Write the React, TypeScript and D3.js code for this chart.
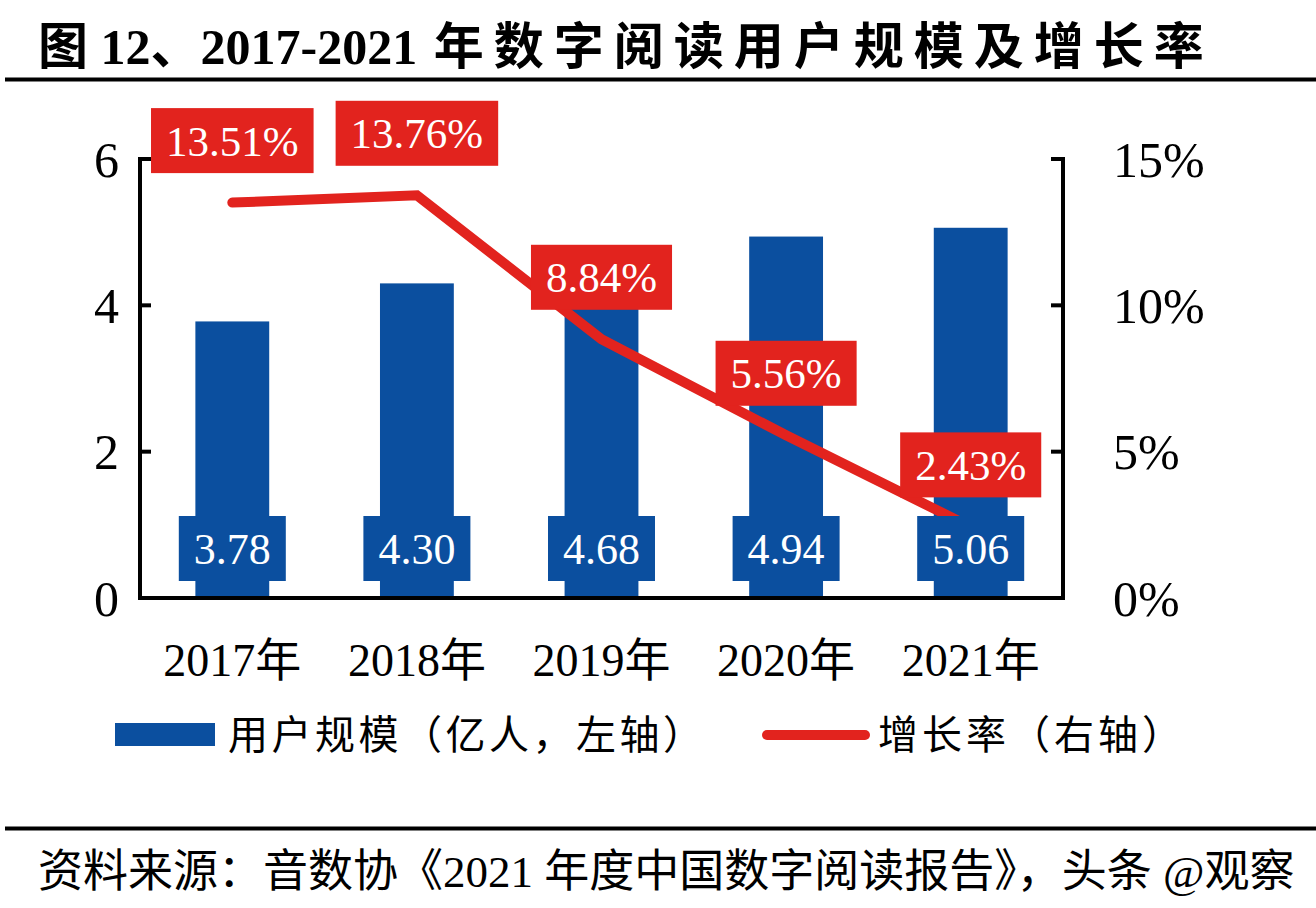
import React from "react";
import * as d3 from "d3";

const years = ["2017年", "2018年", "2019年", "2020年", "2021年"];
const users = [3.78, 4.3, 4.68, 4.94, 5.06];
const growth = [13.51, 13.76, 8.84, 5.56, 2.43];
const leftTicks = [0, 2, 4, 6];
const rightTicks = [0, 5, 10, 15];

const BLUE = "#0b4f9f";
const RED = "#e2231e";
const SERIF = "'Liberation Serif', 'Times New Roman', 'Noto Sans CJK SC', serif";
const CJK = "'Noto Sans CJK SC', sans-serif";

export default function App() {
  const W = 1316, H = 908;
  const x0 = 140, x1 = 1063, yBottom = 598, yTop = 159;
  const x = d3.scaleBand<string>().domain(years).range([x0, x1]).paddingInner(0).paddingOuter(0);
  const yL = d3.scaleLinear().domain([0, 6]).range([yBottom, yTop]);
  const yR = d3.scaleLinear().domain([0, 15]).range([yBottom, yTop]);
  const bw = x.bandwidth() * 0.4;
  const cx = (d: string) => (x(d) as number) + x.bandwidth() / 2;

  const line = d3
    .line<number>()
    .x((_, i) => cx(years[i]))
    .y((d) => yR(d));

  const fsVal = 44;
  const fsPct = 43;
  const textW = (s: string, fs: number) =>
    s.split("").reduce((a, c) => a + (c === "." ? 0.25 : c === "%" ? 0.833 : 0.5), 0) * fs;

  return (
    <svg
      width={W}
      height={H}
      style={{ position: "absolute", left: 0, top: 0, background: "#fff" }}
    >
      <rect x={0} y={0} width={W} height={H} fill="#fff" />
      {/* Title */}
      <text x={38} y={64} fontSize={50} fontWeight="bold" fontFamily={SERIF} fill="#000">
        <tspan>图 12、2017-2021 </tspan>
        <tspan dx={4} letterSpacing={10}>年数字阅读用户规模及增长率</tspan>
      </text>
      <line x1={5} x2={W} y1={79.5} y2={79.5} stroke="#000" strokeWidth={4} />

      {/* Bars */}
      {years.map((yr, i) => (
        <rect
          key={yr}
          x={cx(yr) - bw / 2}
          y={yL(users[i])}
          width={bw}
          height={yBottom - yL(users[i])}
          fill={BLUE}
        />
      ))}

      {/* Growth line */}
      <path
        d={line(growth) as string}
        fill="none"
        stroke={RED}
        strokeWidth={10}
        strokeLinecap="round"
        strokeLinejoin="miter"
      />

      {/* Growth labels */}
      {years.map((yr, i) => {
        const s = growth[i].toFixed(2) + "%";
        const w = textW(s, fsPct) + 30;
        const c = cx(yr);
        const cy = yR(growth[i]) - 62;
        return (
          <g key={"g" + yr}>
            <rect x={c - w / 2} y={cy - 32.5} width={w} height={65} fill={RED} />
            <text
              x={c}
              y={cy}
              dy="0.35em"
              textAnchor="middle"
              fontSize={fsPct}
              fontFamily={SERIF}
              fill="#fff"
            >
              {s}
            </text>
          </g>
        );
      })}

      {/* Value labels */}
      {years.map((yr, i) => {
        const s = users[i].toFixed(2);
        const w = textW(s, fsVal) + 30;
        const c = cx(yr);
        const cy = 548.5;
        return (
          <g key={"v" + yr}>
            <rect x={c - w / 2} y={cy - 32.5} width={w} height={65} fill={BLUE} />
            <text
              x={c}
              y={cy}
              dy="0.35em"
              textAnchor="middle"
              fontSize={fsVal}
              fontFamily={SERIF}
              fill="#fff"
            >
              {s}
            </text>
          </g>
        );
      })}

      {/* Axes */}
      <line x1={x0} x2={x0} y1={yTop - 2} y2={yBottom + 2} stroke="#000" strokeWidth={4} />
      <line x1={x1} x2={x1} y1={yTop - 2} y2={yBottom + 2} stroke="#000" strokeWidth={4} />
      <line x1={x0 - 2} x2={x1 + 2} y1={yBottom} y2={yBottom} stroke="#000" strokeWidth={4} />
      {leftTicks.map((t) => (
        <g key={"l" + t}>
          <line x1={x0} x2={x0 + 11} y1={yL(t)} y2={yL(t)} stroke="#000" strokeWidth={4} />
          <text
            x={119}
            y={yL(t)}
            dy="0.35em"
            textAnchor="end"
            fontSize={50}
            fontFamily={SERIF}
            fill="#000"
          >
            {t}
          </text>
        </g>
      ))}
      {rightTicks.map((t) => (
        <g key={"r" + t}>
          <line x1={x1 - 12} x2={x1} y1={yR(t)} y2={yR(t)} stroke="#000" strokeWidth={4} />
          <text
            x={1113}
            y={yR(t)}
            dy="0.35em"
            textAnchor="start"
            fontSize={50}
            fontFamily={SERIF}
            fill="#000"
          >
            {t + "%"}
          </text>
        </g>
      ))}
      {years.map((yr) => (
        <text
          key={"x" + yr}
          x={cx(yr)}
          y={676}
          textAnchor="middle"
          fontSize={46}
          fontFamily={SERIF}
          fill="#000"
        >
          {yr}
        </text>
      ))}

      {/* Legend */}
      <rect x={115} y={723} width={100} height={23} fill={BLUE} />
      <text x={228} y={749} fontSize={40} letterSpacing={3.5} fontFamily={CJK} fill="#000">
        用户规模（亿人，左轴）
      </text>
      <line x1={767} x2={865} y1={735} y2={735} stroke={RED} strokeWidth={10} strokeLinecap="round" />
      <text x={878} y={749} fontSize={40} letterSpacing={4} fontFamily={CJK} fill="#000">
        增长率（右轴）
      </text>

      {/* Footer */}
      <line x1={5} x2={W} y1={828.5} y2={828.5} stroke="#000" strokeWidth={4} />
      <text x={38} y={887} fontSize={45} fontFamily={SERIF} fill="#000">
        资料来源：音数协《2021 年度中国数字阅读报告》，头条 @观察
      </text>
    </svg>
  );
}
